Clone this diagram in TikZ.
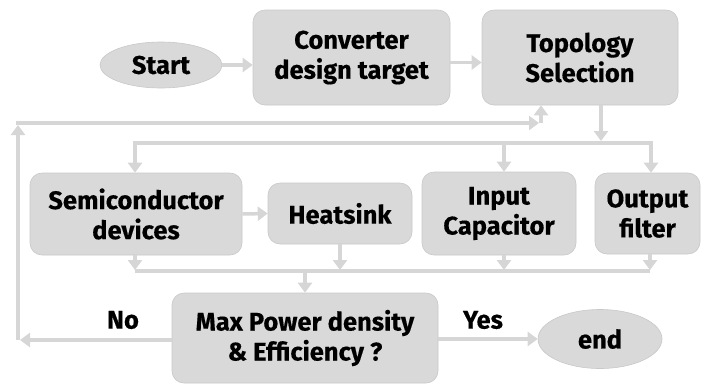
\documentclass[tikz,border=0pt]{standalone}
\usepackage{fontspec}
\setmainfont[BoldFeatures={FakeBold=0.4}]{Fira Sans}
\usetikzlibrary{arrows.meta,shapes.geometric}
\definecolor{boxfill}{RGB}{217,217,217}
\definecolor{boxline}{RGB}{200,200,200}
\definecolor{arrowcol}{RGB}{214,214,214}
\tikzset{
  box/.style={draw=boxline, line width=0.6pt, fill=boxfill, rounded corners=12pt, align=center,
    font=\fontsize{25.5}{30}\selectfont\bfseries, inner sep=0pt},
  oval/.style={draw=boxline, line width=0.6pt, fill=boxfill, ellipse, align=center,
    font=\fontsize{25.5}{30}\selectfont\bfseries, inner sep=0pt},
  conn/.style={draw=arrowcol, line width=3.5pt},
  arr/.style={conn, -{Triangle[width=14pt,length=10pt]}},
  lbl/.style={font=\fontsize{25.5}{30}\selectfont\bfseries, inner sep=0pt}
}
\begin{document}
\begin{tikzpicture}[x=1pt,y=-1pt]
\useasboundingbox (0,0) rectangle (701,384);
% nodes
\node[oval, minimum width=122pt, minimum height=46pt] (start) at (161,65) {Start};
\node[box, minimum width=197pt, minimum height=95pt] (conv) at (351.5,57.5) {Converter\\design target};
\node[box, minimum width=196pt, minimum height=95pt] (topo) at (580,57.5) {Topology\\Selection};
\node[box, minimum width=212pt, minimum height=82pt] (semi) at (136,214) {Semiconductor\\devices};
\node[box, minimum width=144pt, minimum height=61pt] (heat) at (340,213.5) {Heatsink};
\node[box, minimum width=154pt, minimum height=83pt] (inp) at (499,213.5) {Input\\Capacitor};
\node[box, minimum width=105pt, minimum height=81pt] (outf) at (647.5,213.5) {Output\\filter};
\node[box, minimum width=266pt, minimum height=90pt] (maxp) at (305,338) {Max Power density\\\& Efficiency ?};
\node[oval, minimum width=124pt, minimum height=59pt] (endn) at (600,339) {end};
\node[lbl] (no) at (123,320) {No};
\node[lbl] (yes) at (483,320) {Yes};
% coordinates
\coordinate (dT) at (601,143);
\coordinate (d1) at (135,143);
\coordinate (d2) at (504,143);
\coordinate (d3) at (651,143);
\coordinate (c1) at (135,271);
\coordinate (c2) at (340,271);
\coordinate (c3) at (504,271);
\coordinate (c4) at (650,271);
\coordinate (cm) at (305,271);
\coordinate (fbL) at (20,340);
\coordinate (fbB) at (18,340);
\coordinate (fbT) at (18,123);
\coordinate (fbR) at (539,123);
\coordinate (fbU) at (541,123);
% connectors
\draw[arr] (start.east) -- (conv.west |- start.east);
\draw[arr] ([yshift=-5pt]conv.east) -- ([yshift=-5pt]topo.west);
\draw[arr] (topo.south -| dT) -- ([yshift=2pt]dT);
\draw[conn] (d1) -- (d3);
\draw[arr] ([yshift=1.75pt]d1) -- (d1 |- semi.north);
\draw[arr] ([yshift=1.75pt]d2) -- (d2 |- inp.north);
\draw[arr] ([yshift=1.75pt]d3) -- (d3 |- outf.north);
\draw[arr] (semi.east) -- (heat.west);
\draw[arr] (semi.south -| c1) -- ([yshift=1pt]c1);
\draw[arr] (heat.south -| c2) -- ([yshift=1pt]c2);
\draw[arr] (inp.south -| c3) -- ([yshift=1pt]c3);
\draw[arr] (outf.south -| c4) -- ([yshift=1pt]c4);
\draw[conn] (c1) -- (c4);
\draw[arr] ([yshift=-1.75pt]cm) -- (maxp.north);
\draw[arr] (maxp.west |- fbL) -- (fbL);
\draw[arr] (fbB) -- ([yshift=-2pt]fbT);
\draw[arr] ([xshift=-1.75pt]fbT) -- (fbR);
\draw[arr] (fbU) -- (fbU |- topo.south);
\draw[arr] (maxp.east |- endn.west) -- (endn.west);
\end{tikzpicture}
\end{document}
